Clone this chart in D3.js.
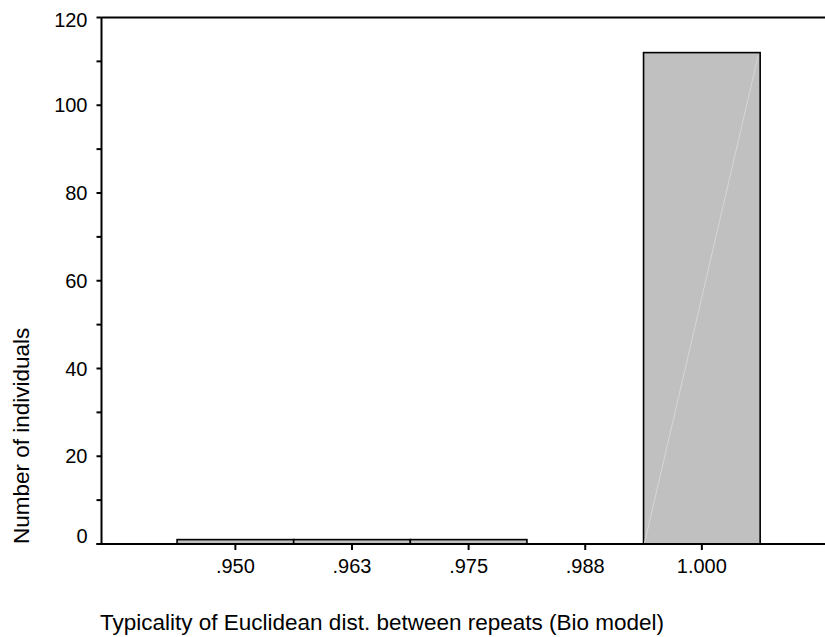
<!DOCTYPE html>
<html><head><meta charset="utf-8">
<script src="https://cdn.jsdelivr.net/npm/d3@7"></script>
<style>body{margin:0;background:#fff}svg{display:block}text{font-family:Arial,"Liberation Sans",sans-serif;fill:#000}</style>
</head><body><svg id="c" width="825" height="637"></svg>
<script>
const categories = [".950", ".963", ".975", ".988", "1.000"];
const counts = [1, 1, 1, 0, 112];
const yTicks = [0, 20, 40, 60, 80, 100, 120];
const yMinorTicks = [10, 30, 50, 70, 90, 110];
const xTitle = "Typicality of Euclidean dist. between repeats (Bio model)";
const yTitle = "Number of individuals";

(function () {
const svg = d3.select("#c");
const pL = 101.5, pR = 825, pT = 17.5, pB = 544;
const x = d3.scaleLinear().domain([-1.148, 5.056]).range([pL, pR]);
const y = d3.scaleLinear().domain([0, 120]).range([pB, pT]);
const bw = x(1) - x(0);

// bars
const data = counts.map((c, i) => ({ c, i })).filter(d => d.c > 0);
svg.selectAll("rect.bar").data(data).enter().append("rect")
  .attr("class", "bar")
  .attr("x", d => x(d.i) - bw / 2).attr("y", d => y(d.c))
  .attr("width", bw).attr("height", d => y(0) - y(d.c))
  .attr("fill", "#c0c0c0").attr("stroke", "#000").attr("stroke-width", 1.6);

// faint rendering artifact line in the tall bar
const big = counts.length - 1;
svg.append("line")
  .attr("x1", x(big) - bw / 2 + 1).attr("y1", y(0) - 1)
  .attr("x2", x(big) + bw / 2 - 2).attr("y2", y(counts[big]) + 3)
  .attr("stroke", "#d6d6d6").attr("stroke-width", 1);

// y axis
const yAxis = svg.append("g").attr("transform", `translate(${pL},0)`);
yAxis.append("line").attr("x1", 0).attr("x2", 0).attr("y1", pT).attr("y2", pB)
  .attr("stroke", "#000").attr("stroke-width", 2);
yAxis.selectAll("line.mj").data(yTicks.concat(yMinorTicks)).enter().append("line")
  .attr("x1", -5).attr("x2", 0).attr("y1", d => y(d)).attr("y2", d => y(d))
  .attr("stroke", "#000").attr("stroke-width", 2);
const labelShift = v => v === 0 ? -1 : (v === 120 ? 9.5 : 7);
yAxis.selectAll("text").data(yTicks).enter().append("text")
  .attr("x", -14).attr("y", d => y(d) + labelShift(d))
  .attr("text-anchor", "end").attr("font-size", 20).text(d => d);

// top frame line
svg.append("line").attr("x1", pL).attr("x2", pR).attr("y1", pT).attr("y2", pT)
  .attr("stroke", "#000").attr("stroke-width", 2);

// x axis
svg.append("line").attr("x1", pL - 5).attr("x2", pR).attr("y1", pB).attr("y2", pB)
  .attr("stroke", "#000").attr("stroke-width", 2);
svg.selectAll("line.xt").data(categories).enter().append("line")
  .attr("x1", (d, i) => x(i)).attr("x2", (d, i) => x(i))
  .attr("y1", pB).attr("y2", pB + 6)
  .attr("stroke", "#000").attr("stroke-width", 2);
svg.selectAll("text.xl").data(categories).enter().append("text")
  .attr("x", (d, i) => x(i)).attr("y", 573)
  .attr("text-anchor", "middle").attr("font-size", 20).text(d => d);

// titles
svg.append("text").attr("x", 100).attr("y", 630).attr("font-size", 22.5).text(xTitle);
svg.append("text").attr("transform", "translate(29,544) rotate(-90)")
  .attr("text-anchor", "start").attr("font-size", 22.5).text(yTitle);
})();
</script></body></html>
